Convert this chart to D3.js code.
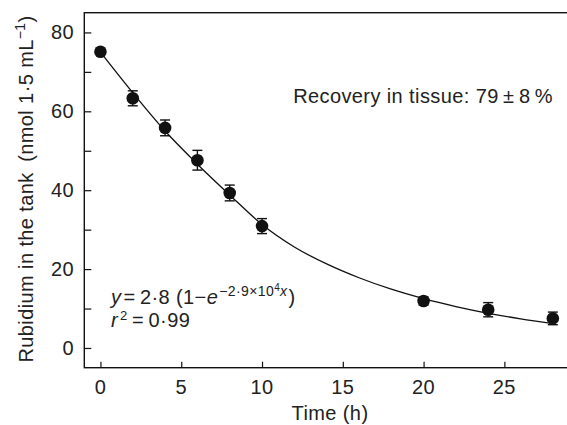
<!DOCTYPE html>
<html>
<head>
<meta charset="utf-8">
<script src="https://cdn.jsdelivr.net/npm/d3@7"></script>
<style>
  body { margin: 0; background: #fff; }
  svg { display: block; font-family: "Liberation Sans", Arial, sans-serif; }
  text { fill: #222; letter-spacing: 0.4px; }
</style>
</head>
<body>
<div id="chart"></div>
<script>
// Measured points (time in h, Rb in nmol 1.5 mL-1, +/- error)
const times = [0, 2, 4, 6, 8, 10, 20, 24, 28];
const rubidium = [75.1, 63.3, 55.8, 47.6, 39.3, 30.9, 11.9, 9.7, 7.5];
const errors = [0, 1.9, 2.0, 2.5, 2.0, 1.9, 1.0, 1.8, 1.6];

// Fitted curve
const fitTimes = [0, 2, 4, 6, 8, 10, 12, 14, 16, 18, 20, 22, 24, 26, 28];
const fitValues = [75, 64.7, 55, 46.6, 38.8, 31.3, 25.6, 21.3, 17.8, 14.9, 12.5, 10.5, 8.8, 7.4, 6.2];

const xTicks = [0, 5, 10, 15, 20, 25];
const yTicks = [0, 20, 40, 60, 80];
const yMinorTicks = [10, 30, 50, 70];

const width = 567, height = 425;
const frameLeft = 84.3, frameTop = 12.7, frameBottom = 367.7, frameRight = 569;

const svg = d3.select("#chart").append("svg")
    .attr("width", width)
    .attr("height", height);

const x = d3.scaleLinear().domain([-1, 29]).range([frameLeft, frameRight]);
const y = d3.scaleLinear().domain([-5, 85]).range([frameBottom, frameTop]);

// Frame
svg.append("rect")
    .attr("x", frameLeft).attr("y", frameTop)
    .attr("width", frameRight - frameLeft).attr("height", frameBottom - frameTop)
    .attr("fill", "none")
    .attr("stroke", "#111")
    .attr("stroke-width", 1.4);

// Axes with inward ticks
const xAxis = svg.append("g")
    .attr("transform", "translate(0," + frameBottom + ")")
    .call(d3.axisTop(x).tickValues(xTicks).tickSize(6).tickFormat(""));
xAxis.select(".domain").remove();
xAxis.selectAll("line").attr("stroke", "#111").attr("stroke-width", 1.2);

svg.selectAll(".xlabel")
    .data(xTicks)
    .enter().append("text")
    .attr("x", d => x(d))
    .attr("y", 394)
    .attr("text-anchor", "middle")
    .attr("font-size", 20)
    .text(d => d);

const yAxis = svg.append("g")
    .attr("transform", "translate(" + frameLeft + ",0)")
    .call(d3.axisRight(y).tickValues(yTicks.concat(yMinorTicks)).tickSize(7).tickFormat(""));
yAxis.select(".domain").remove();
yAxis.selectAll("line").attr("stroke", "#111").attr("stroke-width", 1.2);

svg.selectAll(".ylabel")
    .data(yTicks)
    .enter().append("text")
    .attr("x", 74)
    .attr("y", d => y(d) + 7)
    .attr("text-anchor", "end")
    .attr("font-size", 20)
    .text(d => d);

// Axis titles
svg.append("text")
    .attr("x", 330)
    .attr("y", 420)
    .attr("text-anchor", "middle")
    .attr("font-size", 20)
    .text("Time (h)");

const yTitle = svg.append("text")
    .attr("transform", "translate(33,189) rotate(-90)")
    .attr("text-anchor", "middle")
    .attr("font-size", 20);
yTitle.append("tspan").text("Rubidium in the tank\u2002(nmol 1\u00b75 mL");
yTitle.append("tspan").attr("dy", -8).attr("font-size", 14).text("\u22121");
yTitle.append("tspan").attr("dy", 8).text(")");

// Fit line
const line = d3.line()
    .x((d, i) => x(fitTimes[i]))
    .y(d => y(d))
    .curve(d3.curveMonotoneX);

svg.append("path")
    .datum(fitValues)
    .attr("d", line)
    .attr("fill", "none")
    .attr("stroke", "#111")
    .attr("stroke-width", 1.3);

// Error bars
const bars = svg.append("g").selectAll("g")
    .data(times.map((t, i) => ({t: t, v: rubidium[i], e: errors[i]})).filter(d => d.e > 0))
    .enter().append("g")
    .attr("stroke", "#111")
    .attr("stroke-width", 1.4);
bars.append("line")
    .attr("x1", d => x(d.t)).attr("x2", d => x(d.t))
    .attr("y1", d => y(d.v + d.e)).attr("y2", d => y(d.v - d.e));
bars.append("line")
    .attr("x1", d => x(d.t) - 5).attr("x2", d => x(d.t) + 5)
    .attr("y1", d => y(d.v + d.e)).attr("y2", d => y(d.v + d.e));
bars.append("line")
    .attr("x1", d => x(d.t) - 5).attr("x2", d => x(d.t) + 5)
    .attr("y1", d => y(d.v - d.e)).attr("y2", d => y(d.v - d.e));

// Points
svg.append("g").selectAll("circle")
    .data(times)
    .enter().append("circle")
    .attr("cx", d => x(d))
    .attr("cy", (d, i) => y(rubidium[i]))
    .attr("r", 6.3)
    .attr("fill", "#111");

// Annotations
svg.append("text")
    .attr("x", 553)
    .attr("y", 103)
    .attr("text-anchor", "end")
    .attr("font-size", 20)
    .text("Recovery in tissue: 79\u2009\u00b1\u20098\u2009%");

// Fit equation
const eq = svg.append("text")
    .attr("x", 111)
    .attr("y", 304)
    .attr("font-size", 20);
eq.append("tspan").attr("font-style", "italic").text("y");
eq.append("tspan").attr("dx", 2).text("=\u20092\u00b78 (1\u2212");
eq.append("tspan").attr("font-style", "italic").text("e");
eq.append("tspan").attr("dx", 1).attr("dy", -8).attr("font-size", 14).text("\u22122\u00b79\u00d710");
eq.append("tspan").attr("dy", -5).attr("font-size", 10).text("4");
eq.append("tspan").attr("dy", 5).attr("font-size", 14).attr("font-style", "italic").text("x");
eq.append("tspan").attr("dx", 1).attr("dy", 8).text(")");

// r^2
const r2 = svg.append("text")
    .attr("x", 111)
    .attr("y", 327)
    .attr("font-size", 20);
r2.append("tspan").attr("font-style", "italic").text("r");
r2.append("tspan").attr("dx", 2).attr("dy", -7).attr("font-size", 13).text("2");
r2.append("tspan").attr("dy", 7).text("\u2009=\u20090\u00b799");
</script>
</body>
</html>
